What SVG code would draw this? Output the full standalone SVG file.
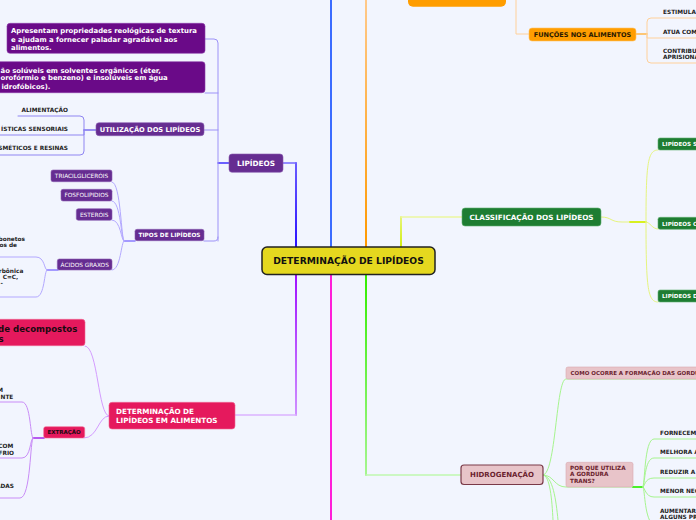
<svg xmlns="http://www.w3.org/2000/svg" width="696" height="520" viewBox="0 0 696 520">
<style>
.t{font-family:"DejaVu Sans",Verdana,sans-serif;font-weight:bold}
.r{font-family:"DejaVu Sans",Verdana,sans-serif;font-weight:normal}
.w{fill:#ffffff}
.k{fill:#222222}
.m{fill:#6b1f2f}
.c{text-anchor:middle}
.e{text-anchor:end}
.pu{fill:#662d91;stroke:#8a5cb0;stroke-width:0.6}
.pd{fill:#6a0a88;stroke:#8c3aa8;stroke-width:0.6}
.cr{fill:#e5195d;stroke:#f06a94;stroke-width:0.6}
.gr{fill:#1e7d32;stroke:#5fae6e;stroke-width:0.6}
.pk{fill:#e8c4c9;stroke:#d9a9b0;stroke-width:0.6}
.lf{font-size:5.8px}
#connectors path{fill:none;stroke-linecap:round;stroke-linejoin:round}
</style>
<defs>
<linearGradient id="gOr" gradientUnits="userSpaceOnUse" x1="0" y1="247" x2="0" y2="0"><stop offset="0" stop-color="#ff9900"/><stop offset="1" stop-color="#ffc98a"/></linearGradient>
<linearGradient id="gVi" gradientUnits="userSpaceOnUse" x1="0" y1="275" x2="0" y2="415"><stop offset="0" stop-color="#a010ff"/><stop offset="1" stop-color="#cf90ff"/></linearGradient>
<linearGradient id="gBl" gradientUnits="userSpaceOnUse" x1="0" y1="247" x2="0" y2="163"><stop offset="0" stop-color="#2a10ff"/><stop offset="1" stop-color="#6a5cff"/></linearGradient>
<linearGradient id="gGr" gradientUnits="userSpaceOnUse" x1="0" y1="275" x2="0" y2="475"><stop offset="0" stop-color="#33ee00"/><stop offset="1" stop-color="#a6f590"/></linearGradient>
<linearGradient id="gYg" gradientUnits="userSpaceOnUse" x1="0" y1="247" x2="0" y2="217"><stop offset="0" stop-color="#d2ee10"/><stop offset="1" stop-color="#e6f47a"/></linearGradient>
</defs>
<rect x="0" y="0" width="696" height="520" fill="#f2f5fe"/>

<g id="connectors">
  <path d="M331,261 V0" stroke="#3b6cff" stroke-width="2"/>
  <path d="M331,261 V520" stroke="#ff1fd8" stroke-width="2"/>
  <path d="M366,261 V0" stroke="url(#gOr)" stroke-width="2"/>
  <path d="M296,261 V163" stroke="url(#gBl)" stroke-width="2"/>
  <path d="M296,163 H283" stroke="#7468ff" stroke-width="1.5"/>
  <path d="M296,261 V415" stroke="url(#gVi)" stroke-width="2"/>
  <path d="M296,415 H235" stroke="#dcb2ff" stroke-width="1.5"/>
  <path d="M366,261 V475" stroke="url(#gGr)" stroke-width="2"/>
  <path d="M366,475 H461" stroke="#c0f7b0" stroke-width="1.5"/>
  <path d="M401,261 V217" stroke="url(#gYg)" stroke-width="2"/>
  <path d="M401,217 H462" stroke="#ecf6a0" stroke-width="1.5"/>

  <path d="M516,0 V34 H529" stroke="#ffd09a" stroke-width="1"/>
  <path d="M636,34 H647" stroke="#ffb64a" stroke-width="1.5"/>
  <path d="M647,34 V22 Q647,18 651,18 H696" stroke="#ffd09a" stroke-width="1"/>
  <path d="M647,34 V38 H696" stroke="#ffd09a" stroke-width="1"/>
  <path d="M647,34 V59 Q647,63 651,63 H696" stroke="#ffd09a" stroke-width="1"/>

  <path d="M601,217 C612,217 610,222 622,222 H646" stroke="#e6f47e" stroke-width="1"/>
  <path d="M630,222 H646" stroke="#d8f020" stroke-width="1.8"/>
  <path d="M646,222 C646,162 648,150 658,150" stroke="#e6f47e" stroke-width="1"/>
  <path d="M646,222 C650,222 652,229 658,229" stroke="#e6f47e" stroke-width="1"/>
  <path d="M646,222 C646,290 648,302 658,302" stroke="#e6f47e" stroke-width="1"/>

  <path d="M543,475 C556,475 556,379 566,379 H696" stroke="#a6f48e" stroke-width="1"/>
  <path d="M543,475 C554,475 554,487 566,487 H643" stroke="#a6f48e" stroke-width="1"/>
  <path d="M633,487 H643" stroke="#4cf02a" stroke-width="2"/>
  <path d="M543,475 C550,475 552,500 553,520" stroke="#a6f48e" stroke-width="1"/>
  <path d="M543,475 C553,476 556,500 558,520" stroke="#a6f48e" stroke-width="1"/>
  <path d="M643,487 C645,487 644,439 654,439 H696" stroke="#a6f48e" stroke-width="1"/>
  <path d="M643,487 C645,487 644,458 654,458 H696" stroke="#a6f48e" stroke-width="1"/>
  <path d="M643,487 C645,487 644,478 654,478 H696" stroke="#a6f48e" stroke-width="1"/>
  <path d="M643,487 C645,487 645,497 654,497 H696" stroke="#a6f48e" stroke-width="1"/>
  <path d="M643,487 C645,487 644,516 652,524" stroke="#a6f48e" stroke-width="1"/>

  <path d="M229,163 H218" stroke="#3f2fff" stroke-width="1.5"/>
  <path d="M218,241 V43 Q218,39 214,39 H205" stroke="#9d92f7" stroke-width="1"/>
  <path d="M218,93 H205" stroke="#9d92f7" stroke-width="1"/>
  <path d="M218,130 H204" stroke="#9d92f7" stroke-width="1"/>
  <path d="M218,237 Q218,241 214,241 H204" stroke="#9d92f7" stroke-width="1"/>

  <path d="M96,130 H84" stroke="#7b70ee" stroke-width="1.5"/>
  <path d="M84,130 V120 Q84,116 80,116 H18" stroke="#8f85f2" stroke-width="1"/>
  <path d="M84,130 V135 H0" stroke="#8f85f2" stroke-width="1"/>
  <path d="M84,130 V151 Q84,155 80,155 H0" stroke="#8f85f2" stroke-width="1"/>

  <path d="M135,241 H124" stroke="#8a7cff" stroke-width="1.5"/>
  <path d="M124,241 C121,241 121,182 112,182" stroke="#b3a8ff" stroke-width="1"/>
  <path d="M124,241 C121,241 121,201 112,201" stroke="#b3a8ff" stroke-width="1"/>
  <path d="M124,241 C121,241 121,220 112,220" stroke="#b3a8ff" stroke-width="1"/>
  <path d="M124,241 C121,241 121,270 112,270" stroke="#b3a8ff" stroke-width="1"/>
  <path d="M58,270 H47" stroke="#8a7cff" stroke-width="1.5"/>
  <path d="M47,270 C44,270 45,257 36,257 H0" stroke="#b3a8ff" stroke-width="1"/>
  <path d="M47,270 C44,270 45,297 36,297 H0" stroke="#b3a8ff" stroke-width="1"/>

  <path d="M109,416 C98,416 98,346 85,346" stroke="#d49cff" stroke-width="1"/>
  <path d="M109,416 C98,416 98,438 84,438" stroke="#d49cff" stroke-width="1"/>
  <path d="M44,438 H33" stroke="#b65cf0" stroke-width="1.8"/>
  <path d="M33,438 C30,438 31,402 22,402 H0" stroke="#c98cf7" stroke-width="1"/>
  <path d="M33,438 C30,438 31,458 22,458 H0" stroke="#c98cf7" stroke-width="1"/>
  <path d="M33,438 C30,438 31,498 20,498 H0" stroke="#c98cf7" stroke-width="1"/>
</g>

<g id="n-center">
  <rect x="262" y="247" width="173" height="27.5" rx="5" fill="#e5d81f" stroke="#222" stroke-width="1.5"/>
  <text class="t c" x="348.5" y="264.3" font-size="9.2" fill="#111">DETERMINAÇÃO DE LIPÍDEOS</text>
</g>

<g id="n-orange-top">
  <rect x="408" y="-12" width="98" height="18.7" rx="5" fill="#ff9d00"/>
</g>
<g id="n-funcoes">
  <rect x="529" y="28" width="107" height="13" rx="3" fill="#ff9d00" stroke="#ffc266" stroke-width="0.6"/>
  <text class="t c" x="582.5" y="36.8" font-size="6.5" fill="#2a1a00">FUNÇÕES NOS ALIMENTOS</text>
</g>
<g id="n-estimula"><text class="t k lf" x="663" y="13.8">ESTIMULA</text></g>
<g id="n-atua"><text class="t k lf" x="663" y="34">ATUA COM</text></g>
<g id="n-contribu"><text class="t k lf" x="663" y="52.7">CONTRIBU</text><text class="t k lf" x="663" y="59.3">APRISIONA</text></g>

<g id="n-classif">
  <rect x="462" y="208" width="139" height="18" rx="3" class="gr"/>
  <text class="t w c" x="531.5" y="219.6" font-size="7.25">CLASSIFICAÇÃO DOS LIPÍDEOS</text>
</g>
<g id="n-lip-s"><rect x="658" y="138" width="50" height="12" rx="2" class="gr"/><text class="t w" x="662" y="146.2" font-size="5.6">LIPÍDEOS S</text></g>
<g id="n-lip-c"><rect x="658" y="217.3" width="50" height="12" rx="2" class="gr"/><text class="t w" x="662" y="225.5" font-size="5.6">LIPÍDEOS C</text></g>
<g id="n-lip-d"><rect x="658" y="290" width="50" height="12" rx="2" class="gr"/><text class="t w" x="662" y="298.2" font-size="5.6">LIPÍDEOS D</text></g>

<g id="n-hidro">
  <rect x="461" y="465" width="82" height="19.5" rx="3" fill="#e8c4c9" stroke="#7a3a48" stroke-width="1.2"/>
  <text class="t m c" x="502" y="477.3" font-size="7">HIDROGENAÇÃO</text>
</g>
<g id="n-como">
  <rect x="566" y="367" width="140" height="12" rx="2" class="pk"/>
  <text class="t m" x="570.5" y="375.2" font-size="5.5">COMO OCORRE A FORMAÇÃO DAS GORDU</text>
</g>
<g id="n-porque">
  <rect x="566" y="462.3" width="67" height="24.7" rx="2" class="pk"/>
  <text class="t m" x="570" y="469.7" font-size="5.7">POR QUE UTILIZA</text>
  <text class="t m" x="570" y="476.3" font-size="5.7">A GORDURA</text>
  <text class="t m" x="570" y="483" font-size="5.7">TRANS?</text>
</g>
<g id="n-fornecem"><text class="t k lf" x="660" y="434.7">FORNECEM</text></g>
<g id="n-melhora"><text class="t k lf" x="660" y="454">MELHORA A</text></g>
<g id="n-reduzir"><text class="t k lf" x="660" y="474.3">REDUZIR A</text></g>
<g id="n-menor"><text class="t k lf" x="660" y="493">MENOR NEC</text></g>
<g id="n-aumentar"><text class="t k lf" x="660" y="512.7">AUMENTAR</text><text class="t k lf" x="660" y="519">ALGUNS PR</text></g>

<g id="n-lipideos">
  <rect x="229" y="154" width="54" height="18.3" rx="3" class="pu"/>
  <text class="t w c" x="256" y="165.8" font-size="7.3">LIPÍDEOS</text>
</g>
<g id="n-apresentam">
  <rect x="7" y="23.3" width="198" height="30" rx="3" class="pd"/>
  <text class="t w" x="11" y="33.3" font-size="6.86">Apresentam propriedades reológicas de textura</text>
  <text class="t w" x="11" y="41.6" font-size="6.86">e ajudam a fornecer paladar agradável aos</text>
  <text class="t w" x="11" y="49.9" font-size="6.86">alimentos.</text>
</g>
<g id="n-sao">
  <rect x="-6" y="61.7" width="211" height="31" rx="3" class="pd"/>
  <text class="t w" x="0.5" y="72.5" font-size="6.86">ão solúveis em solventes orgânicos (éter,</text>
  <text class="t w" x="0.5" y="80.3" font-size="6.86">orofórmio e benzeno) e insolúveis em água</text>
  <text class="t w" x="1.5" y="88.5" font-size="6.86">idrofóbicos).</text>
</g>
<g id="n-utilizacao">
  <rect x="96" y="122.7" width="108" height="13" rx="3" class="pu"/>
  <text class="t w c" x="150" y="131.6" font-size="6.7">UTILIZAÇÃO DOS LIPÍDEOS</text>
</g>
<g id="n-alimentacao"><text class="t k lf e" x="68" y="111.7">ALIMENTAÇÃO</text></g>
<g id="n-sensoriais"><text class="t k lf e" x="68" y="131">ÍSTICAS SENSORIAIS</text></g>
<g id="n-cosmeticos"><text class="t k lf e" x="68" y="150.3">SMÉTICOS E RESINAS</text></g>

<g id="n-tipos">
  <rect x="135" y="229.3" width="69" height="11.4" rx="2" class="pu"/>
  <text class="t w c" x="169.5" y="237.1" font-size="5.75">TIPOS DE LIPÍDEOS</text>
</g>
<g id="n-triacil"><rect x="51" y="170" width="61" height="11.7" rx="2" class="pu"/><text class="r w c" x="81.5" y="178" font-size="5.8">TRIACILGLICERÓIS</text></g>
<g id="n-fosfo"><rect x="61" y="189.3" width="51" height="11.7" rx="2" class="pu"/><text class="r w c" x="86.5" y="197.3" font-size="5.8">FOSFOLIPIDIOS</text></g>
<g id="n-esterois"><rect x="76.3" y="208.7" width="35.7" height="11.6" rx="2" class="pu"/><text class="r w c" x="94.2" y="216.6" font-size="5.8">ESTERÓIS</text></g>
<g id="n-acidos"><rect x="57.3" y="259" width="54.7" height="11" rx="2" class="pu"/><text class="r w c" x="84.7" y="266.6" font-size="5.8">ÁCIDOS GRAXOS</text></g>
<g id="n-carbonetos"><text class="t k lf e" x="25" y="241">rbonetos</text><text class="t k lf e" x="17" y="247.3">os de</text></g>
<g id="n-carbonica"><text class="t k lf e" x="23.3" y="273.2">rbônica</text><text class="t k lf e" x="18.3" y="279.2">C=C,</text><text class="t k lf e" x="3" y="284.8">-</text></g>

<g id="n-det-alim">
  <rect x="109" y="402.3" width="126" height="26.7" rx="3" class="cr"/>
  <text class="t w" x="116" y="413.6" font-size="7.2">DETERMINAÇÃO DE</text>
  <text class="t w" x="116" y="422.9" font-size="7.2">LIPÍDEOS EM ALIMENTOS</text>
</g>
<g id="n-decompostos">
  <rect x="-6" y="319.3" width="91" height="26.4" rx="3" class="cr"/>
  <text class="t e" x="77.3" y="331.5" font-size="8.6" fill="#1a0a10">de decompostos</text>
  <text class="t e" x="3.5" y="342" font-size="8.6" fill="#1a0a10">s</text>
</g>
<g id="n-extracao">
  <rect x="43.7" y="426.7" width="41" height="11.3" rx="2" class="cr"/>
  <text class="t c" x="64.2" y="434.4" font-size="5.5" fill="#1a0a10">EXTRAÇÃO</text>
</g>
<g id="n-ex1"><text class="t k lf e" x="3" y="392">M</text><text class="t k lf e" x="13.3" y="398.7">NTE</text></g>
<g id="n-ex2"><text class="t k lf e" x="13.3" y="448">COM</text><text class="t k lf e" x="14" y="454.7">FRIO</text></g>
<g id="n-ex3"><text class="t k lf e" x="14" y="487.7">ADAS</text></g>
</svg>
